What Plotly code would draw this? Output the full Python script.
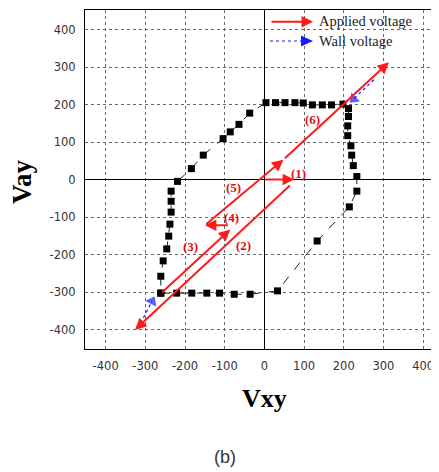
import plotly.graph_objects as go

# ---- data ----
loop_x = [-261, -221, -183, -145, -113, -76, -36, 33, 133, 214, 233, 233, 224, 220, 218, 210, 210, 212, 212, 198,
          169, 146, 121, 98, 77, 52, 28, 4, -37, -64, -86, -104, -154, -184, -219, -235, -235, -235, -238, -241,
          -246, -255, -261, -261]
loop_y = [-303, -303, -303, -303, -303, -306, -306, -297, -164, -73, -31, 8, 37, 65, 90, 117, 143, 168, 189, 201,
          199, 199, 199, 204, 205, 205, 205, 205, 177, 147, 127, 109, 65, 29, -5, -31, -58, -87, -119, -151,
          -185, -217, -258, -303]

# applied-voltage arrows: start x, start y, end x, end y
arrow_x0 = [0, 68, -262, -88, -150, 48]
arrow_y0 = [0, -12, -305, -122, -122, 53]
arrow_x1 = [75, -326, -86, -150, 48, 314]
arrow_y1 = [0, -401, -133, -122, 53, 313]

# step labels
step_labels = ["(1)", "(2)", "(3)", "(4)", "(5)", "(6)"]
step_lx = [86, -53, -186, -82, -78, 122]
step_ly = [17, -175, -178, -100, -22, 160]

# wall-voltage arrows
wall_x = [[276, 225], [-312, -283]]
wall_y = [[266, 215], [-383, -325]]

tick_vals = [-400, -300, -200, -100, 0, 100, 200, 300, 400]
tick_text = ["-400", "-300", "-200", "-100", "0", "100", "200", "300", "400"]

RED = "#ff1a1a"
BLUE = "#1a1aff"

# the page body has an 8px margin; lay out in figure pixels relative to that
OFF = 8
FW, FH = 439 - OFF, 472 - OFF
L, T, W, H = 85 - OFF, 10 - OFF, 354, 339


def px(xp):
    return (xp - OFF - L) / W


def py(yp):
    return (T + H - (yp - OFF)) / H


fig = go.Figure()

fig.add_trace(go.Scatter(
    x=loop_x, y=loop_y, mode="lines+markers",
    line=dict(color="#222", width=1, dash="dash"),
    marker=dict(symbol="square", size=7, color="black"),
    showlegend=False, hoverinfo="skip"))

for wx, wy in zip(wall_x, wall_y):
    fig.add_trace(go.Scatter(
        x=wx, y=wy, mode="lines+markers",
        line=dict(color=BLUE, width=1.2, dash="dot"),
        marker=dict(symbol="triangle-up", size=[0, 11], color=BLUE, angleref="previous",
                    line=dict(width=0)),
        showlegend=False, hoverinfo="skip"))

annotations = []
for x0, y0, x1, y1 in zip(arrow_x0, arrow_y0, arrow_x1, arrow_y1):
    annotations.append(dict(
        x=x1, y=y1, ax=x0, ay=y0, xref="x", yref="y", axref="x", ayref="y",
        text="", showarrow=True, arrowhead=2, arrowsize=1.15, arrowwidth=2, arrowcolor=RED))

for t, lx, ly in zip(step_labels, step_lx, step_ly):
    annotations.append(dict(
        x=lx, y=ly, xref="x", yref="y", text="<b>%s</b>" % t, showarrow=False,
        xanchor="center", yanchor="middle",
        font=dict(family="Liberation Serif", size=13, color="#e01010")))

# manual legend
annotations.append(dict(x=px(313), y=py(21.7), xref="paper", yref="paper", ax=-43, ay=0,
                        text="", showarrow=True, arrowhead=2, arrowsize=1.15, arrowwidth=2,
                        arrowcolor=RED))
annotations.append(dict(x=px(317), y=py(21), xref="paper", yref="paper", xanchor="left", yanchor="middle",
                        text="Applied voltage", showarrow=False,
                        font=dict(family="Liberation Serif", size=14.5, color="#222")))
annotations.append(dict(x=px(317), y=py(41), xref="paper", yref="paper", xanchor="left", yanchor="middle",
                        text="Wall voltage", showarrow=False,
                        font=dict(family="Liberation Serif", size=14.5, color="#222")))

shapes = [
    dict(type="line", xref="paper", yref="paper", x0=px(270), x1=px(302), y0=py(41), y1=py(41),
         line=dict(color=BLUE, width=1, dash="dot")),
    dict(type="path", xref="paper", yref="paper", fillcolor=BLUE, line=dict(width=0),
         path="M %f,%f L %f,%f L %f,%f Z" % (px(313), py(41), px(301), py(35.5), px(301), py(46.5))),
]

# axis titles and caption
annotations.append(dict(x=0, y=py(398), xref="x", yref="paper", text="<b>Vxy</b>", showarrow=False,
                        xanchor="center", yanchor="middle",
                        font=dict(family="Liberation Serif", size=26, color="black")))
annotations.append(dict(x=px(22), y=py(182), xref="paper", yref="paper", text="<b>Vay</b>",
                        showarrow=False, textangle=-90, xanchor="center", yanchor="middle",
                        font=dict(family="Liberation Serif", size=27, color="black")))
annotations.append(dict(x=px(225), y=py(457), xref="paper", yref="paper", text="(b)", showarrow=False,
                        xanchor="center", yanchor="middle",
                        font=dict(family="Liberation Sans", size=18, color="#333")))

axis_common = dict(
    tickvals=tick_vals, ticktext=tick_text, automargin=False,
    showgrid=True, gridcolor="#666", gridwidth=1, griddash="dot",
    zeroline=True, zerolinecolor="black", zerolinewidth=1,
    showline=True, linecolor="black", linewidth=1, mirror=True,
    ticks="outside", ticklen=6, tickcolor="rgba(0,0,0,0)",
    tickfont=dict(family="DejaVu Sans", size=11.5, color="#333"),
)

fig.update_layout(
    width=FW, height=FH,
    margin=dict(l=L, r=FW - L - W, t=T, b=FH - T - H),
    paper_bgcolor="white", plot_bgcolor="white",
    xaxis=dict(range=[-452, 440], **axis_common),
    yaxis=dict(range=[-452, 452], **axis_common),
    annotations=annotations, shapes=shapes,
    showlegend=False,
)

fig.write_html("out.html")
